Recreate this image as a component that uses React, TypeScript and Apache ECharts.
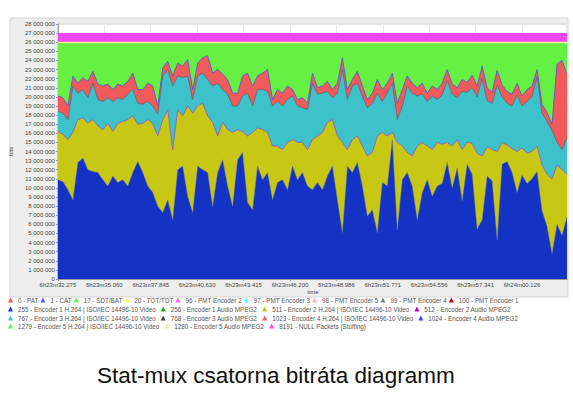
import React, { useEffect, useRef } from "react";
import * as echarts from "echarts";

// Sample timing (seconds since 6h23m32.275)
const sampleStepSec = 0.2995;
const tickStepSec = 2.785;
const tickLabels = [
  "6h23m32.275", "6h23m35.060", "6h23m37.845", "6h23m40.630", "6h23m43.415",
  "6h23m46.200", "6h23m48.986", "6h23m51.771", "6h23m54.556", "6h23m57.341", "6h24m00.126",
];

// Cumulative bitrate levels (Mbit/s)
// top of PID 255 (Encoder 1 video)
const enc1Top = [
  10.9, 10.7, 9.8, 8.7, 12.8, 13.3, 12.0, 11.8, 11.7, 10.9, 10.2, 11.3, 10.6, 10.9, 10.2, 11.7, 12.9, 11.7, 10.2, 9.5, 8.0, 7.3, 8.7, 6.5, 12.0, 12.4,
  9.1, 7.3, 12.4, 12.0, 11.7, 8.0, 11.7, 13.1, 10.2, 8.0, 13.1, 13.9, 8.4, 7.6, 12.4, 10.9, 11.7, 8.7, 10.6, 10.9, 9.8, 12.4, 10.9, 11.7, 10.2, 9.8,
  10.6, 9.8, 11.3, 12.4, 8.7, 5.1, 12.4, 11.7, 12.8, 10.2, 6.9, 7.6, 5.1, 10.6, 10.2, 15.3, 5.4, 10.9, 11.7, 10.2, 6.5, 9.5, 10.9, 9.1, 10.2,
  10.5, 12.8, 10.0, 12.2, 8.6, 12.6, 11.5, 5.5, 6.5, 11.3, 10.8, 4.3, 12.6, 12.9, 11.7, 9.5, 11.4, 10.5, 11.0, 11.8, 7.5, 5.8, 2.8, 6.0, 4.8, 6.8,
];
// top of PID 511 (Encoder 2 video)
const enc2Top = [
  16.2, 15.9, 15.3, 16.1, 17.5, 17.7, 17.1, 17.5, 16.8, 16.4, 17.1, 16.2, 17.1, 17.3, 17.5, 17.9, 17.0, 17.1, 17.5, 17.1, 15.7, 17.5, 18.6, 14.2, 18.6, 17.9,
  19.0, 18.2, 19.0, 19.3, 17.9, 17.2, 15.7, 17.2, 16.4, 16.1, 16.4, 16.2, 15.7, 16.1, 16.6, 16.4, 16.1, 14.6, 14.6, 14.2, 15.0, 15.3, 15.0, 15.0, 14.2, 15.3,
  15.7, 16.1, 17.2, 17.5, 15.7, 15.0, 14.2, 15.3, 15.7, 14.6, 13.5, 13.9, 15.7, 16.1, 15.7, 16.1, 15.0, 14.6, 13.9, 13.5, 14.6, 15.0, 14.6, 14.2, 15.0,
  14.8, 15.0, 14.6, 15.3, 14.2, 15.0, 14.9, 13.8, 13.5, 14.5, 14.2, 14.0, 15.0, 14.7, 14.3, 14.0, 14.4, 13.8, 14.0, 14.6, 12.5, 11.5, 11.0, 12.5, 12.0, 11.5,
];
// top of PID 767 (Encoder 3 video)
const enc3Top = [
  18.4, 18.2, 17.5, 21.2, 20.4, 20.8, 19.9, 21.5, 19.7, 19.5, 19.9, 19.5, 19.9, 19.7, 20.3, 20.8, 19.3, 19.2, 19.5, 19.0, 18.1, 22.3, 23.0, 21.2, 22.3, 22.1,
  22.3, 19.7, 22.3, 22.6, 21.9, 21.2, 21.5, 20.8, 20.3, 19.0, 19.0, 20.1, 20.4, 19.0, 20.8, 20.8, 20.6, 19.0, 19.5, 19.0, 19.7, 20.1, 19.0, 18.8, 18.6, 21.5,
  20.3, 20.4, 20.6, 19.9, 20.4, 23.0, 19.7, 21.2, 21.5, 20.1, 18.8, 19.3, 20.4, 19.5, 20.4, 21.5, 17.5, 19.0, 21.2, 20.4, 20.1, 20.3, 19.5, 20.1, 19.7,
  20.2, 21.8, 20.3, 19.9, 20.6, 20.5, 21.0, 20.0, 22.0, 19.6, 19.3, 21.3, 20.0, 19.3, 19.0, 20.2, 19.0, 19.5, 20.0, 22.2, 18.2, 17.3, 16.3, 15.0, 14.2, 15.5,
];
// top of PID 1023 (Encoder 4 video)
const enc4Top = [
  20.1, 19.9, 19.0, 22.3, 21.5, 22.1, 21.7, 22.8, 21.4, 21.2, 21.4, 20.8, 21.4, 21.2, 21.7, 22.6, 20.8, 20.8, 21.5, 21.2, 19.0, 23.2, 23.9, 22.3, 23.7, 23.4,
  24.1, 20.8, 23.7, 24.3, 24.5, 22.6, 23.0, 22.5, 21.9, 20.4, 20.4, 22.3, 22.6, 21.2, 22.3, 22.6, 23.0, 19.7, 20.8, 20.4, 21.2, 20.8, 19.7, 19.9, 19.3, 22.6,
  21.0, 21.2, 21.7, 20.8, 21.5, 24.3, 20.8, 21.9, 22.8, 21.2, 19.7, 20.4, 21.9, 20.8, 21.5, 22.6, 19.3, 20.8, 22.3, 21.5, 21.0, 21.5, 20.4, 21.2, 20.8,
  21.5, 23.0, 21.4, 21.0, 21.9, 21.6, 22.4, 21.2, 23.4, 21.0, 20.5, 22.9, 21.3, 20.6, 20.3, 21.5, 20.1, 20.8, 21.2, 23.0, 19.2, 18.3, 17.0, 23.6, 24.0, 22.5,
];
// constant mux levels (Mbit/s)
const enc5VideoTop = 25.9;
const enc5AudioTop = 26.05;
const nullPacketsTop = 27.0;

const legendRows = [
  ["0 - PAT", "1 - CAT", "17 - SDT/BAT", "20 - TOT/TDT", "96 - PMT Encoder 2", "97 - PMT Encoder 3", "98 - PMT Encoder 5", "99 - PMT Encoder 4", "100 - PMT Encoder 1"],
  ["255 - Encoder 1 H.264 | ISO/IEC 14496-10 Video", "256 - Encoder 1 Audio MPEG2", "511 - Encoder 2 H.264 | ISO/IEC 14496-10 Video", "512 - Encoder 2 Audio MPEG2"],
  ["767 - Encoder 3 H.264 | ISO/IEC 14496-10 Video", "768 - Encoder 3 Audio MPEG2", "1023 - Encoder 4 H.264 | ISO/IEC 14496-10 Video", "1024 - Encoder 4 Audio MPEG2"],
  ["1279 - Encoder 5 H.264 | ISO/IEC 14496-10 Video", "1280 - Encoder 5 Audio MPEG2", "8191 - NULL Packets (Stuffing)"],
];

const pidColors: Record<string, string> = {
  "0 - PAT": "#ff5555",
  "1 - CAT": "#5555ff",
  "17 - SDT/BAT": "#55ff55",
  "20 - TOT/TDT": "#ffff55",
  "96 - PMT Encoder 2": "#ff55ff",
  "97 - PMT Encoder 3": "#55ffff",
  "98 - PMT Encoder 5": "#ffafaf",
  "99 - PMT Encoder 4": "#808080",
  "100 - PMT Encoder 1": "#c00000",
  "255 - Encoder 1 H.264 | ISO/IEC 14496-10 Video": "#1432c4",
  "256 - Encoder 1 Audio MPEG2": "#00c000",
  "511 - Encoder 2 H.264 | ISO/IEC 14496-10 Video": "#c8c814",
  "512 - Encoder 2 Audio MPEG2": "#c000c0",
  "767 - Encoder 3 H.264 | ISO/IEC 14496-10 Video": "#3cc2c8",
  "768 - Encoder 3 Audio MPEG2": "#404040",
  "1023 - Encoder 4 H.264 | ISO/IEC 14496-10 Video": "#f05a5a",
  "1024 - Encoder 4 Audio MPEG2": "#4040ff",
  "1279 - Encoder 5 H.264 | ISO/IEC 14496-10 Video": "#66f044",
  "1280 - Encoder 5 Audio MPEG2": "#f2f0a0",
  "8191 - NULL Packets (Stuffing)": "#f048f0",
};

const fmtBits = (vM: number) =>
  String(Math.round(vM * 1000000)).replace(/\B(?=(\d{3})+(?!\d))/g, " ");

export default function App() {
  const ref = useRef<HTMLDivElement>(null);
  useEffect(() => {
    if (!ref.current) return;
    const chart = echarts.init(ref.current, null, { renderer: "svg" });
    const times = enc1Top.map((_, i) => i * sampleStepSec);
    const xMax = times[times.length - 1];
    const pair = (arr: number[]) => arr.map((v, i) => [times[i], v]);
    const constPair = (v: number) => times.map((t) => [t, v]);

    const areaSeries = (name: string, data: number[][], edgeColor?: string, edgeWidth = 0) => ({
      name,
      type: "line",
      data,
      showSymbol: false,
      symbol: "none",
      smooth: false,
      itemStyle: { color: pidColors[name] },
      lineStyle: { width: edgeWidth, color: edgeColor || pidColors[name] },
      areaStyle: { color: pidColors[name], opacity: 1, origin: "start" },
    });

    const drawn = [
      areaSeries("8191 - NULL Packets (Stuffing)", constPair(nullPacketsTop)),
      areaSeries("1280 - Encoder 5 Audio MPEG2", constPair(enc5AudioTop)),
      areaSeries("1279 - Encoder 5 H.264 | ISO/IEC 14496-10 Video", constPair(enc5VideoTop)),
      areaSeries("1023 - Encoder 4 H.264 | ISO/IEC 14496-10 Video", pair(enc4Top), "#5050e0", 0.8),
      areaSeries("767 - Encoder 3 H.264 | ISO/IEC 14496-10 Video", pair(enc3Top), "#606070", 0.7),
      areaSeries("511 - Encoder 2 H.264 | ISO/IEC 14496-10 Video", pair(enc2Top), "#a050c0", 0.8),
      areaSeries("255 - Encoder 1 H.264 | ISO/IEC 14496-10 Video", pair(enc1Top), "#708090", 0.5),
    ];
    const drawnNames = drawn.map((s) => s.name);
    const legendOnly = legendRows
      .flat()
      .filter((n) => !drawnNames.includes(n))
      .map((name) => ({
        name,
        type: "line",
        data: [],
        itemStyle: { color: pidColors[name] },
        lineStyle: { color: pidColors[name] },
      }));

    const legendTops = [297, 306, 315, 323];
    const legendGaps = [2, 5, 5, 5];
    const legends = legendRows.map((row, r) => ({
      data: row.map((n) => ({ name: n, icon: "triangle", itemStyle: { color: pidColors[n] } })),
      left: 8,
      top: legendTops[r],
      orient: "horizontal",
      padding: 0,
      itemGap: legendGaps[r],
      itemWidth: 5,
      itemHeight: 5,
      selectedMode: false,
      textStyle: { fontSize: 6.3, color: "#555", fontFamily: "Liberation Sans" },
    }));

    chart.setOption({
      animation: false,
      backgroundColor: "#ffffff",
      title: {
        text: "Stat-mux csatorna bitráta diagramm",
        left: 97,
        top: 364,
        padding: 0,
        textStyle: { fontSize: 22.5, fontWeight: "normal", color: "#111", fontFamily: "Liberation Sans" },
      },
      graphic: [
        {
          type: "rect",
          z: -10,
          shape: { x: 10, y: 18, width: 558, height: 279 },
          style: { fill: "#eeeeee", stroke: "#d4d4d4", lineWidth: 1 },
        },
        {
          type: "text",
          x: 313,
          y: 292,
          style: {
            text: "time",
            fontSize: 6,
            fill: "#444",
            fontFamily: "Liberation Sans",
            align: "center",
            verticalAlign: "middle",
          },
        },
      ],
      legend: legends,
      grid: {
        left: 57,
        right: 6,
        top: 24,
        bottom: 117,
        show: true,
        backgroundColor: "#ffffff",
        borderColor: "#cfcfcf",
        borderWidth: 1,
      },
      xAxis: {
        type: "value",
        min: 0,
        max: xMax,
        interval: tickStepSec,
        axisLine: { show: true, lineStyle: { color: "#999" } },
        axisTick: { show: true, length: 2, lineStyle: { color: "#999" } },
        axisLabel: {
          fontSize: 6,
          color: "#444",
          margin: 3,
          fontFamily: "Liberation Sans",
          showMaxLabel: false,
          formatter: (v: number) => tickLabels[Math.round(v / tickStepSec)] ?? "",
        },
        splitLine: { show: true, lineStyle: { color: "#e4e4e4" } },
      },
      yAxis: {
        type: "value",
        min: 0,
        max: 28,
        interval: 1,
        name: "bits",
        nameLocation: "middle",
        nameGap: 31,
        nameRotate: 90,
        nameTextStyle: { fontSize: 6, color: "#444", fontFamily: "Liberation Sans" },
        axisLine: { show: true, lineStyle: { color: "#999" } },
        axisTick: { show: true, length: 2, lineStyle: { color: "#999" } },
        axisLabel: {
          fontSize: 6,
          color: "#444",
          margin: 3,
          fontFamily: "Liberation Sans",
          formatter: (v: number) => fmtBits(v),
        },
        splitLine: { show: true, lineStyle: { color: "#e4e4e4" } },
      },
      series: [...drawn, ...legendOnly],
    });
    return () => chart.dispose();
  }, []);
  return (
    <div
      ref={ref}
      style={{ position: "fixed", left: 0, top: 0, width: 573, height: 396 }}
    />
  );
}
